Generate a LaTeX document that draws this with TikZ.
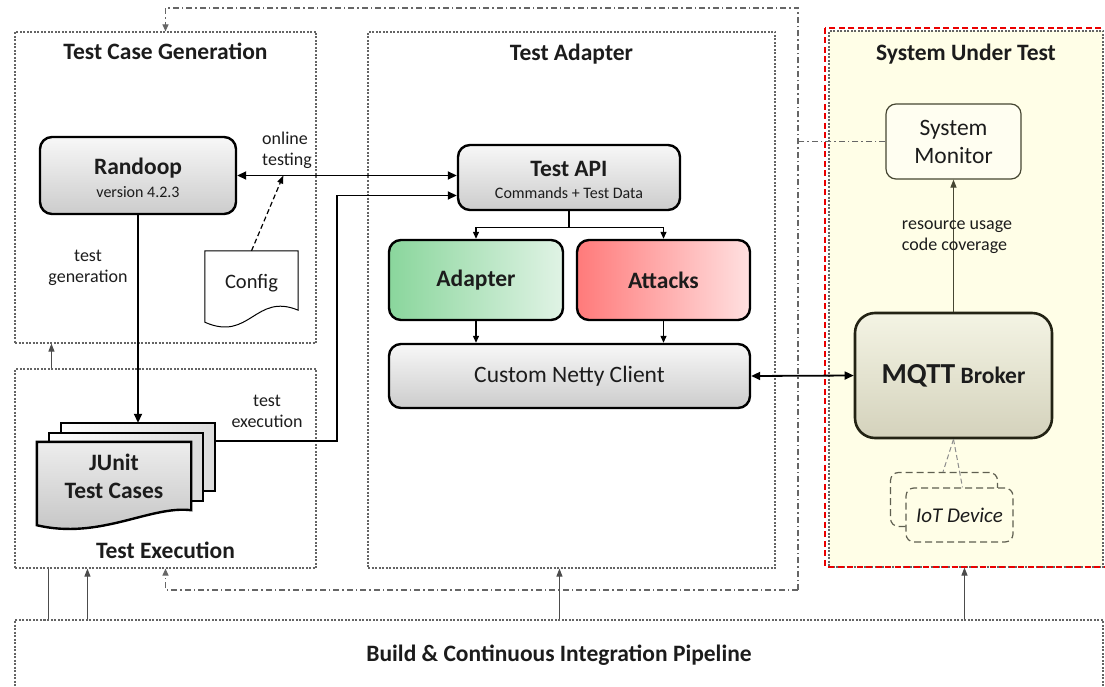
\documentclass[tikz,border=0pt]{standalone}
\usepackage{fontspec}
\setmainfont{Carlito}
\usetikzlibrary{arrows.meta,positioning,calc,backgrounds}
\definecolor{ink}{RGB}{28,28,28}
\definecolor{frame}{RGB}{100,100,100}
\definecolor{sutfill}{RGB}{255,254,231}
\definecolor{sysline}{RGB}{70,70,50}
\definecolor{devline}{RGB}{95,95,80}
\definecolor{brokerline}{RGB}{35,35,20}
\definecolor{brokerT}{RGB}{244,244,228}
\definecolor{brokerB}{RGB}{212,210,188}
\definecolor{adaptL}{RGB}{138,214,156}
\definecolor{adaptR}{RGB}{224,243,229}
\definecolor{attackL}{RGB}{255,122,122}
\definecolor{attackR}{RGB}{255,224,224}
\definecolor{sutred}{RGB}{235,0,0}

\begin{document}
\begin{tikzpicture}[x=1pt,y=-1pt,
  zone/.style={draw=frame, line width=1.1pt, dash pattern=on 2pt off 1.5pt},
  title/.style={font=\fontsize{23.5}{26}\selectfont\bfseries, text=ink},
  block/.style={draw=black, line width=2.4pt, rounded corners=12pt, top color=black!3, bottom color=black!20, text=ink, align=center},
  lbl/.style={font=\fontsize{18}{21}\selectfont, text=ink, align=center},
  flow/.style={line width=1.8pt, -{Triangle[length=9pt,width=8pt]}},
  duplex/.style={line width=1.8pt, {Triangle[length=9pt,width=8pt]}-{Triangle[length=9pt,width=8pt]}},
  split/.style={line width=1.3pt, -{Triangle[length=7pt,width=6pt]}},
  feed/.style={line width=1.1pt, draw=black!70, -{Triangle[length=8pt,width=6pt]}},
  monitor/.style={draw=black!60, line width=1.1pt, dash pattern=on 6pt off 3pt on 1.5pt off 3pt},
  page/.style={draw=black, line width=2.4pt},
  device/.style={draw=devline, line width=1.2pt, dash pattern=on 7pt off 4pt, rounded corners=8pt, fill=sutfill, minimum width=107pt, minimum height=54pt},
  devlink/.style={draw=black!45, line width=1pt, dash pattern=on 5pt off 3pt}]

\useasboundingbox (0,0) rectangle (1105,687);

\node[zone, minimum width=301pt, minimum height=311pt] (tcg) at (165.5,187.5) {};
\node[title] at ([yshift=-20pt]tcg.north) {Test Case Generation};
\node[zone, minimum width=301pt, minimum height=199pt] (texec) at (165.5,468.5) {};
\node[title] at ([yshift=18pt]texec.south) {Test Execution};
\node[zone, minimum width=407pt, minimum height=536pt] (tadapter) at (571.5,300) {};
\node[title] at ([yshift=-23pt]tadapter.north) {Test Adapter};
\node[zone, fill=sutfill, minimum width=274pt, minimum height=536pt] (sut) at (966,299) {};
\draw[sutred, line width=2pt, dash pattern=on 6pt off 3.5pt]
  ([shift={(-3,-2.5)}]sut.north west) rectangle ([shift={(10,-1)}]sut.south east);
\node[title] at ([yshift=-24pt]sut.north) {System Under Test};
\node[zone, minimum width=1088pt, minimum height=70pt] (pipe) at (559,655) {};
\node[title] at (pipe.center) {Build \& Continuous Integration Pipeline};

\node[block, minimum width=196pt, minimum height=77pt, font=\fontsize{16}{23}\selectfont] (randoop) at (138,175.5)
  {\rule{0pt}{21pt}{\fontsize{23.5}{23}\selectfont\bfseries Randoop}\\version 4.2.3};
\node[block, minimum width=222pt, minimum height=65pt, font=\fontsize{16}{22}\selectfont] (testapi) at (569,177.5)
  {\rule{0pt}{20pt}{\fontsize{23.5}{22}\selectfont\bfseries Test API}\\Commands + Test Data};
\node[block, left color=adaptL, right color=adaptR, minimum width=174pt, minimum height=80pt,
  font=\fontsize{23.5}{26}\selectfont\bfseries] (adapter) at (476,280) {Adapter};
\node[block, left color=attackL, right color=attackR, minimum width=173pt, minimum height=80pt,
  font=\fontsize{23.5}{26}\selectfont\bfseries] (attacks) at (663.5,280) {Attacks};
\node[block, minimum width=361pt, minimum height=64pt, font=\fontsize{23.5}{26}\selectfont] (netty) at (569.5,376) {Custom Netty Client};

\node[draw=sysline, line width=1.2pt, rounded corners=10pt, fill=sutfill!60!white, minimum width=135pt, minimum height=75pt,
  align=center, font=\fontsize{23.5}{28}\selectfont, text=ink] (sysmon) at (953.5,141.5) {System\\Monitor};
\node[block, draw=brokerline, line width=2.6pt, rounded corners=20pt, top color=brokerT, bottom color=brokerB,
  minimum width=197pt, minimum height=125pt, font=\fontsize{23.5}{26}\selectfont\bfseries] (mqtt) at (953.5,375.5)
  {{\fontsize{29}{30}\selectfont MQTT} Broker};
\node[device] (iotback) at (944,499.5) {};
\node[device, font=\fontsize{21}{24}\selectfont\itshape, text=ink] (iot) at (959.5,515) {IoT Device};
\draw[devlink] (mqtt.south) -- ([xshift=-1pt]iotback.north);
\draw[devlink] (mqtt.south) -- ([xshift=3pt]iot.north);

\node[minimum width=93pt, minimum height=64pt, inner sep=0pt, font=\fontsize{20.5}{24}\selectfont, text=ink] (config) at (251.5,283) {Config};
\node[font=\fontsize{23.5}{28}\selectfont\bfseries, align=center, text=ink, minimum width=154pt, minimum height=68pt, inner sep=0pt]
  (junit) at (114,476) {JUnit\\Test Cases};

\begin{scope}[on background layer]
  \foreach \dx/\dy in {24/19,12/9}
    \draw[page, left color=white, right color=black!14]
      ([shift={(\dx,-\dy)}]junit.north west) -- ([shift={(\dx,-\dy)}]junit.north east)
      -- ([shift={(\dx,-\dy)}]junit.south east) -- ([shift={(\dx,-\dy)}]junit.south west) -- cycle;
  \draw[page, top color=black!7, bottom color=black!24]
    (junit.north west) -- (junit.north east) -- (junit.south east)
    .. controls +(-41,-5) and +(63,15) .. ([yshift=-15pt]junit.south west) -- cycle;
  \draw[line width=1pt, fill=white]
    (config.north west) -- (config.north east) -- ([yshift=5pt]config.south east)
    .. controls +(-43,-18) and +(45,20) .. ([yshift=-7pt]config.south west) -- cycle;
\end{scope}

\coordinate (junittop) at ([shift={(24,-19)}]junit.north);
\coordinate (junitout) at ([xshift=24pt,yshift=1pt]junit.north east);
\coordinate (ctltop) at (798,8);
\coordinate (ctlbot) at (798,590);

\draw[flow] (randoop.south) -- (junittop);
\node[lbl] at (88,268) {test\\generation};
\draw[flow] (junitout) -- ++(122,0) |- ([yshift=-18pt]testapi.west);
\node[lbl] at (267,411) {test\\execution};
\draw[duplex] (randoop.east) -- (randoop.east -| testapi.west);
\node[lbl, align=left] at (287,150) {online\\testing};
\draw[line width=1.2pt, dash pattern=on 5pt off 3pt, -{Triangle[length=8pt,width=6pt]}]
  (config.north) -- ($(randoop.east)!0.21!(randoop.east -| testapi.west)$);

\draw[split] (testapi.south) -- ++(0,16) -| (adapter.north);
\draw[split] (testapi.south) -- ++(0,16) -| (attacks.north);
\draw[split] (adapter.south) -- (adapter.south |- netty.north);
\draw[split] (attacks.south) -- (attacks.south |- netty.north);
\draw[duplex] (netty.east) -- (mqtt.west);

\draw[feed, draw=sysline] (mqtt.north) -- (sysmon.south);
\node[lbl, align=left] at (957,237) {resource usage\\code coverage};

\draw[monitor] (sysmon.west) -- (sysmon.west -| ctltop);
\draw[monitor, -{Triangle[length=7pt,width=6pt]}] (ctlbot) -- (ctltop) -| (tcg.north);
\draw[monitor, -{Triangle[length=7pt,width=6pt]}] (ctlbot) -| (texec.south);

\draw[feed, -] ([xshift=34pt]pipe.north west) -- ([xshift=34pt]pipe.north west |- texec.south);
\draw[feed] ([xshift=37pt]texec.north west) -- ([xshift=37pt]texec.north west |- tcg.south);
\draw[feed] ([xshift=73pt]pipe.north west) -- ([xshift=73pt]pipe.north west |- texec.south);
\draw[feed] ([xshift=545pt]pipe.north west) -- ([xshift=545pt]pipe.north west |- tadapter.south);
\draw[feed] ([xshift=950pt]pipe.north west) -- ([xshift=950pt]pipe.north west |- sut.south);
\end{tikzpicture}
\end{document}
